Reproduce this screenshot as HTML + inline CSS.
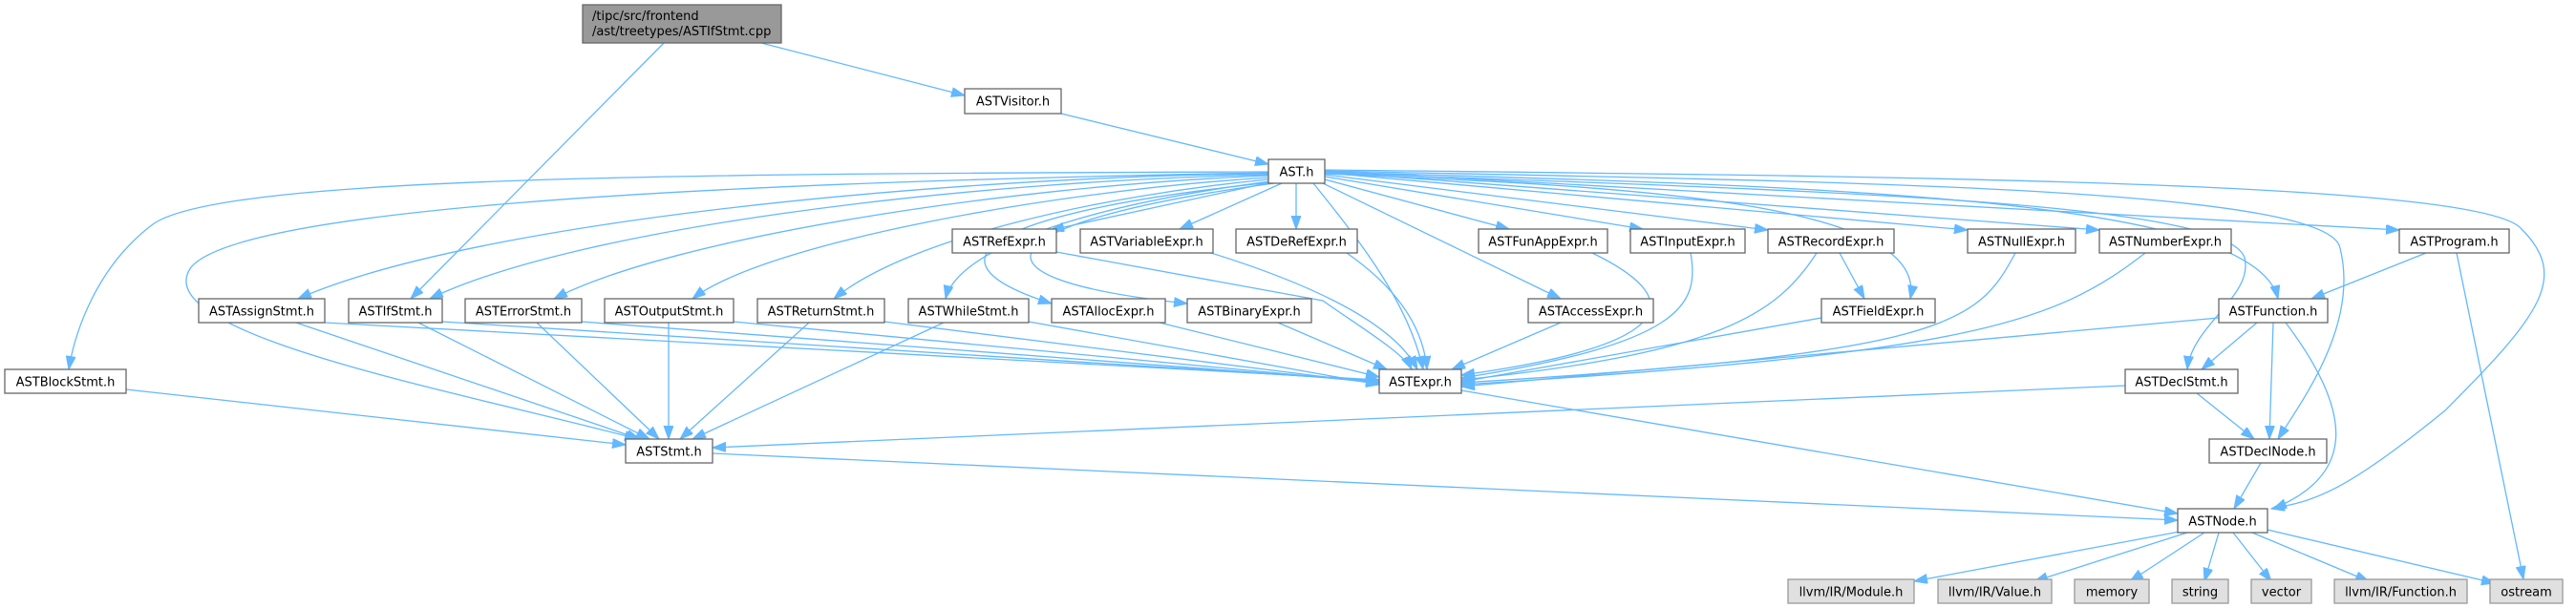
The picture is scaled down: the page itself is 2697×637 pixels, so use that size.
<!DOCTYPE html>
<html><head><meta charset="utf-8"><style>
html,body{margin:0;padding:0;background:#fff;}
svg{display:block;}
text{font-family:"DejaVu Sans","Liberation Sans",sans-serif;font-size:13px;fill:#000;}
.e{fill:none;stroke:#63b8ff;stroke-width:1.3;marker-end:url(#a);}
.n rect{fill:#fff;stroke:#666;stroke-width:1.3;}
.g rect{fill:#e0e0e0;stroke:#999;stroke-width:1.3;}
</style></head><body>
<svg width="2697" height="637" viewBox="0 0 2697 637" xmlns="http://www.w3.org/2000/svg">
<defs><marker id="a" markerUnits="userSpaceOnUse" markerWidth="16" markerHeight="12" refX="14" refY="5" orient="auto"><path d="M0,0 L14,5 L0,10 z" fill="#63b8ff" stroke="#63b8ff"/></marker></defs>

<path class="e" d="M797,45 L1010,100"/>
<path class="e" d="M695,45 L430,313"/>
<path class="e" d="M1111,119 L1328,172"/>

<path class="e" d="M1328,180 C700,182 230,185 160,235 C100,280 78,350 72,387"/>
<path class="e" d="M1328,181 C700,192 250,220 200,280 C150,350 480,410 668,460"/>
<path class="e" d="M1328,182 C1000,185 500,230 312,313"/>
<path class="e" d="M1328,183 C1000,190 600,240 450,313"/>
<path class="e" d="M1328,184 C1050,195 700,250 580,313"/>
<path class="e" d="M1328,186 C1100,200 800,255 725,313"/>
<path class="e" d="M1328,188 C1150,205 950,250 873,313"/>
<path class="e" d="M1330,190 C1100,220 1000,270 990,313"/>
<path class="e" d="M1332,191 C1050,220 950,270 1101,318"/>
<path class="e" d="M1334,192 C1050,230 980,290 1243,318"/>
<path class="e" d="M1335,190 L1100,241"/>
<path class="e" d="M1342,192 L1235,240"/>
<path class="e" d="M1357,192 L1357,240"/>
<path class="e" d="M1375,192 C1430,260 1475,320 1490,387"/>
<path class="e" d="M1385,192 L1634,313"/>
<path class="e" d="M1387,188 L1580,240"/>
<path class="e" d="M1387,185 L1720,240"/>
<path class="e" d="M1387,183 L1851,241"/>
<path class="e" d="M1387,182 C1700,195 2020,210 2000,313"/>
<path class="e" d="M1387,181 L2060,241"/>
<path class="e" d="M1387,180 L2198,241"/>
<path class="e" d="M1387,179 L2512,241"/>
<path class="e" d="M1387,180 C1900,195 2360,205 2385,313"/>
<path class="e" d="M1387,181 C1900,200 2330,210 2350,270 C2360,310 2295,340 2290,387"/>
<path class="e" d="M1387,179 C1900,190 2440,195 2450,260 C2470,340 2410,420 2385,460"/>
<path class="e" d="M1387,178 C2000,185 2600,190 2640,240 C2690,290 2660,330 2560,430 C2450,520 2420,525 2378,533"/>

<path class="e" d="M132,408 L655,466"/>
<path class="e" d="M310,338 L670,460"/>
<path class="e" d="M438,338 L680,460"/>
<path class="e" d="M562,338 L690,460"/>
<path class="e" d="M700,338 L700,460"/>
<path class="e" d="M847,338 L712,460"/>
<path class="e" d="M988,338 L725,460"/>
<path class="e" d="M2225,404 L746,469"/>
<path class="e" d="M340,338 L1444,398"/>
<path class="e" d="M463,337 L1444,399"/>
<path class="e" d="M609,337 L1444,400"/>
<path class="e" d="M768,337 L1444,401"/>
<path class="e" d="M926,337 L1444,402"/>
<path class="e" d="M1077,337 L1444,403"/>
<path class="e" d="M1106,264 L1385,315 C1420,340 1470,370 1478,387"/>
<path class="e" d="M1268,265 C1380,300 1460,340 1484,387"/>
<path class="e" d="M1410,265 C1460,300 1490,340 1494,387"/>
<path class="e" d="M1214,338 L1444,395"/>
<path class="e" d="M1338,338 L1452,387"/>
<path class="e" d="M1634,338 L1520,387"/>
<path class="e" d="M1667,265 C1760,310 1770,360 1530,393"/>
<path class="e" d="M1770,265 C1780,320 1760,360 1530,396"/>
<path class="e" d="M1902,265 C1860,330 1800,370 1530,398"/>
<path class="e" d="M1907,333 L1530,400"/>
<path class="e" d="M2110,265 C2070,340 2040,370 1530,401"/>
<path class="e" d="M2246,265 C2150,340 2060,370 1530,403"/>
<path class="e" d="M2323,333 L1530,405"/>
<path class="e" d="M1926,265 L1952,313"/>
<path class="e" d="M2540,265 L2420,313"/>
<path class="e" d="M2572,265 L2642,607"/>
<path class="e" d="M2363,338 L2305,387"/>
<path class="e" d="M2380,338 L2376,460"/>
<path class="e" d="M2393,338 C2470,440 2460,500 2380,533"/>
<path class="e" d="M2300,412 L2360,460"/>
<path class="e" d="M2367,485 L2339,533"/>
<path class="e" d="M1530,409 L2280,538"/>
<path class="e" d="M746,475 L2280,545"/>
<path class="e" d="M2282,557 L2004,609"/>
<path class="e" d="M2290,558 L2130,609"/>
<path class="e" d="M2308,558 L2230,609"/>
<path class="e" d="M2323,558 L2308,609"/>
<path class="e" d="M2338,558 L2378,609"/>
<path class="e" d="M2358,558 L2480,609"/>
<path class="e" d="M2374,555 L2612,611"/>

<g><rect x="610" y="5" width="208" height="40" fill="#999" stroke="#666" stroke-width="1.3"/><text x="620" y="21">/tipc/src/frontend</text><text x="620" y="37">/ast/treetypes/ASTIfStmt.cpp</text></g>
<g class="n">
<rect x="1010" y="93" width="101" height="26"/><text x="1060.5" y="110.5" text-anchor="middle">ASTVisitor.h</text>
<rect x="1328" y="167" width="59" height="25"/><text x="1357.5" y="184.5" text-anchor="middle">AST.h</text>
<rect x="997" y="240" width="109" height="25"/><text x="1051.5" y="257.5" text-anchor="middle">ASTRefExpr.h</text>
<rect x="1131" y="240" width="139" height="25"/><text x="1200.5" y="257.5" text-anchor="middle">ASTVariableExpr.h</text>
<rect x="1294" y="240" width="127" height="25"/><text x="1357.5" y="257.5" text-anchor="middle">ASTDeRefExpr.h</text>
<rect x="1548" y="240" width="135" height="25"/><text x="1615.5" y="257.5" text-anchor="middle">ASTFunAppExpr.h</text>
<rect x="1707" y="240" width="120" height="25"/><text x="1767" y="257.5" text-anchor="middle">ASTInputExpr.h</text>
<rect x="1851" y="240" width="132" height="25"/><text x="1917" y="257.5" text-anchor="middle">ASTRecordExpr.h</text>
<rect x="2060" y="240" width="113" height="25"/><text x="2116.5" y="257.5" text-anchor="middle">ASTNullExpr.h</text>
<rect x="2198" y="240" width="138" height="25"/><text x="2267" y="257.5" text-anchor="middle">ASTNumberExpr.h</text>
<rect x="2512" y="240" width="115" height="25"/><text x="2569.5" y="257.5" text-anchor="middle">ASTProgram.h</text>
<rect x="208" y="313" width="132" height="25"/><text x="274" y="330.5" text-anchor="middle">ASTAssignStmt.h</text>
<rect x="365" y="313" width="98" height="25"/><text x="414" y="330.5" text-anchor="middle">ASTIfStmt.h</text>
<rect x="487" y="313" width="122" height="25"/><text x="548" y="330.5" text-anchor="middle">ASTErrorStmt.h</text>
<rect x="633" y="313" width="135" height="25"/><text x="700.5" y="330.5" text-anchor="middle">ASTOutputStmt.h</text>
<rect x="793" y="313" width="133" height="25"/><text x="859.5" y="330.5" text-anchor="middle">ASTReturnStmt.h</text>
<rect x="951" y="313" width="126" height="25"/><text x="1014" y="330.5" text-anchor="middle">ASTWhileStmt.h</text>
<rect x="1101" y="313" width="119" height="25"/><text x="1160.5" y="330.5" text-anchor="middle">ASTAllocExpr.h</text>
<rect x="1243" y="313" width="130" height="25"/><text x="1308" y="330.5" text-anchor="middle">ASTBinaryExpr.h</text>
<rect x="1600" y="313" width="131" height="25"/><text x="1665.5" y="330.5" text-anchor="middle">ASTAccessExpr.h</text>
<rect x="1907" y="313" width="119" height="25"/><text x="1966.5" y="330.5" text-anchor="middle">ASTFieldExpr.h</text>
<rect x="2323" y="313" width="114" height="25"/><text x="2380" y="330.5" text-anchor="middle">ASTFunction.h</text>
<rect x="5" y="387" width="127" height="25"/><text x="68.5" y="404.5" text-anchor="middle">ASTBlockStmt.h</text>
<rect x="1444" y="387" width="86" height="25"/><text x="1487" y="404.5" text-anchor="middle">ASTExpr.h</text>
<rect x="2225" y="387" width="118" height="25"/><text x="2284" y="404.5" text-anchor="middle">ASTDeclStmt.h</text>
<rect x="655" y="460" width="91" height="25"/><text x="700.5" y="477.5" text-anchor="middle">ASTStmt.h</text>
<rect x="2313" y="460" width="123" height="25"/><text x="2374.5" y="477.5" text-anchor="middle">ASTDeclNode.h</text>
<rect x="2280" y="533" width="94" height="25"/><text x="2327" y="550.5" text-anchor="middle">ASTNode.h</text>
</g>
<g class="g">
<rect x="1872" y="607" width="132" height="25"/><text x="1938" y="624.5" text-anchor="middle">llvm/IR/Module.h</text>
<rect x="2029" y="607" width="119" height="25"/><text x="2088.5" y="624.5" text-anchor="middle">llvm/IR/Value.h</text>
<rect x="2172" y="607" width="78" height="25"/><text x="2211" y="624.5" text-anchor="middle">memory</text>
<rect x="2274" y="607" width="59" height="25"/><text x="2303.5" y="624.5" text-anchor="middle">string</text>
<rect x="2357" y="607" width="63" height="25"/><text x="2388.5" y="624.5" text-anchor="middle">vector</text>
<rect x="2444" y="607" width="139" height="25"/><text x="2513.5" y="624.5" text-anchor="middle">llvm/IR/Function.h</text>
<rect x="2607" y="607" width="76" height="25"/><text x="2645" y="624.5" text-anchor="middle">ostream</text>
</g>
</svg>
</body></html>
